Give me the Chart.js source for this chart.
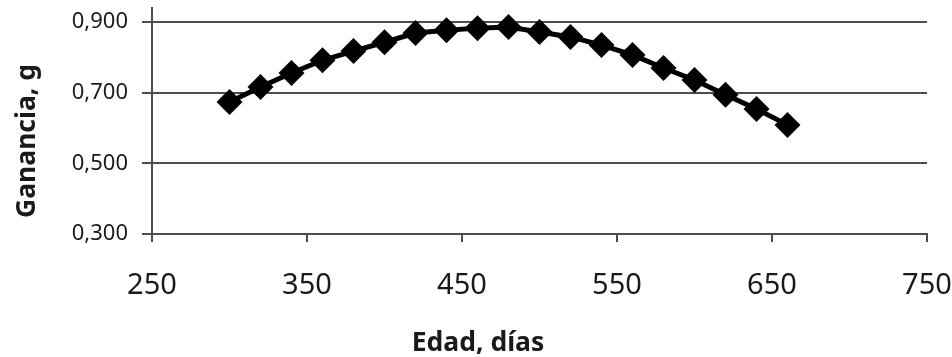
<!DOCTYPE html>
<html>
<head>
<meta charset="utf-8">
<script src="https://cdn.jsdelivr.net/npm/chart.js@4/dist/chart.umd.min.js"></script>
<style>
  html, body { margin: 0; padding: 0; background: #fff; }
  #wrap { width: 952px; height: 357px; }
</style>
</head>
<body>
<div id="wrap"><canvas id="gainChart" width="952" height="357"></canvas></div>
<script>
// Age (days) vs daily gain
const ages = [300, 320, 340, 360, 380, 400, 420, 440, 460, 480, 500, 520, 540, 560, 580, 600, 620, 640, 660];
const gains = [0.674, 0.716, 0.756, 0.792, 0.818, 0.843, 0.869, 0.877, 0.883, 0.886,
               0.872, 0.858, 0.835, 0.807, 0.770, 0.736, 0.694, 0.654, 0.609];

const xTicks = [250, 350, 450, 550, 650, 750];
const yTicks = [0.3, 0.5, 0.7, 0.9];

const xCaption = 'Edad, días';
const yCaption = 'Ganancia, g';

const axisColor = '#4d4d4d';
const textColor = '#1a1a1a';
const captionFont = 'bold 26.5px "Noto Sans"';

// axis captions: x centred on the page, y a little below the plot centre
const captions = {
    id: 'captions',
    afterDraw(chart) {
        const c = chart.ctx;
        c.save();
        c.font = captionFont;
        c.fillStyle = textColor;
        c.textAlign = 'center';
        c.textBaseline = 'middle';
        c.fillText(xCaption, 478, 343);
        c.translate(27, 141);
        c.rotate(-Math.PI / 2);
        c.fillText(yCaption, 0, 0);
        c.restore();
    }
};

const ctx = document.getElementById('gainChart').getContext('2d');

new Chart(ctx, {
    type: 'line',
    data: {
        datasets: [{
            data: ages.map((a, i) => ({ x: a, y: gains[i] })),
            borderColor: '#000',
            backgroundColor: '#000',
            borderWidth: 5,
            pointStyle: 'rectRot',
            pointRadius: 13,
            pointBorderWidth: 0,
            pointBackgroundColor: '#000',
            tension: 0,
            fill: false
        }]
    },
    plugins: [captions],
    options: {
        responsive: false,
        devicePixelRatio: 1,
        animation: false,
        layout: {
            autoPadding: false,
            padding: { top: 8, right: 25, left: 0, bottom: 31 }
        },
        plugins: {
            legend: { display: false },
            tooltip: { enabled: false }
        },
        scales: {
            x: {
                type: 'linear',
                min: 250,
                max: 750,
                afterBuildTicks: axis => { axis.ticks = xTicks.map(v => ({ value: v })); },
                afterFit: scale => {
                    scale.height = 92;
                    scale.paddingLeft = 0;
                    scale.paddingRight = 0;
                },
                grid: {
                    drawOnChartArea: false,
                    drawTicks: true,
                    tickLength: 8,
                    color: axisColor,
                    lineWidth: 2
                },
                border: { display: true, color: axisColor, width: 2 },
                ticks: {
                    color: textColor,
                    padding: 26,
                    maxRotation: 0,
                    font: { family: 'Noto Sans', size: 29 }
                }
            },
            y: {
                min: 0.3,
                max: 0.94,
                afterBuildTicks: axis => { axis.ticks = yTicks.map(v => ({ value: v })); },
                afterFit: scale => {
                    scale.width = 152;
                    scale.paddingTop = 0;
                    scale.paddingBottom = 0;
                },
                grid: {
                    drawTicks: true,
                    tickLength: 10,
                    color: axisColor,
                    lineWidth: 2
                },
                border: { display: true, color: axisColor, width: 2 },
                ticks: {
                    color: textColor,
                    padding: 14,
                    font: { family: 'Noto Sans', size: 22 },
                    callback: v => v.toFixed(3).replace('.', ',')
                }
            }
        }
    }
});
</script>
</body>
</html>
